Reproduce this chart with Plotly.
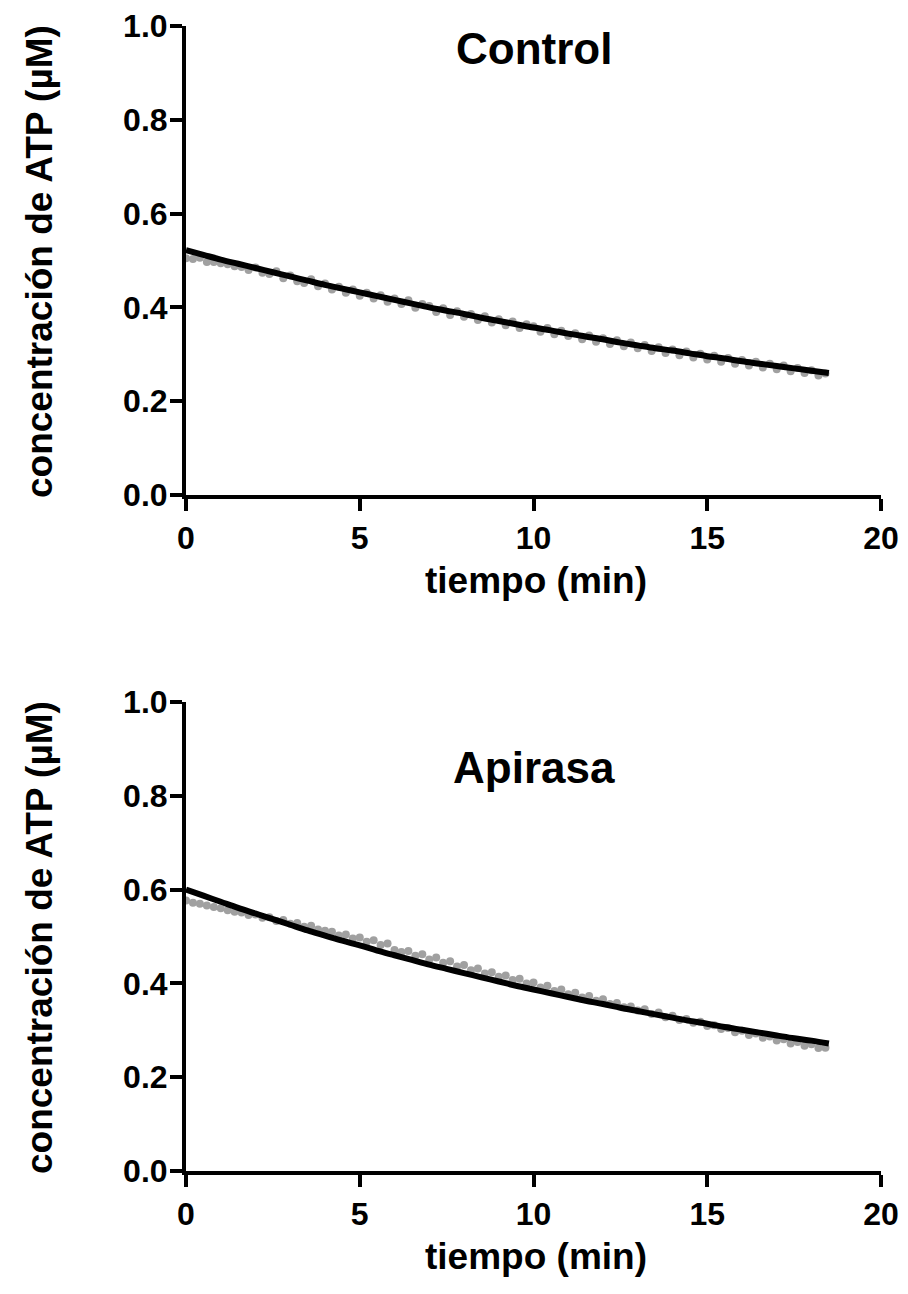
import plotly.graph_objects as go
from plotly.subplots import make_subplots

# ---------------- data ----------------
t_fit = [0, 0.5, 1, 1.5, 2, 2.5, 3, 3.5, 4, 4.5, 5, 5.5, 6, 6.5, 7, 7.5, 8, 8.5, 9, 9.5,
         10, 10.5, 11, 11.5, 12, 12.5, 13, 13.5, 14, 14.5, 15, 15.5, 16, 16.5, 17, 17.5, 18, 18.5]

control_fit = [0.522, 0.512, 0.502, 0.493, 0.484, 0.475, 0.466, 0.457, 0.448, 0.440,
               0.432, 0.424, 0.416, 0.408, 0.400, 0.393, 0.386, 0.378, 0.371, 0.364,
               0.357, 0.351, 0.344, 0.338, 0.332, 0.325, 0.319, 0.313, 0.308, 0.302,
               0.296, 0.291, 0.285, 0.280, 0.275, 0.270, 0.265, 0.260]

apirasa_fit = [0.600, 0.587, 0.574, 0.561, 0.549, 0.537, 0.525, 0.513, 0.502, 0.491,
               0.481, 0.470, 0.460, 0.450, 0.440, 0.431, 0.422, 0.413, 0.404, 0.395,
               0.387, 0.379, 0.371, 0.363, 0.356, 0.348, 0.341, 0.334, 0.327, 0.320,
               0.314, 0.307, 0.301, 0.295, 0.289, 0.283, 0.278, 0.272]

t_raw = [0.0, 0.2, 0.4, 0.6, 0.8, 1.0, 1.2, 1.4, 1.6, 1.8, 2.0, 2.2, 2.4, 2.6, 2.8, 3.0,
         3.2, 3.4, 3.6, 3.8, 4.0, 4.2, 4.4, 4.6, 4.8, 5.0, 5.2, 5.4, 5.6, 5.8, 6.0, 6.2,
         6.4, 6.6, 6.8, 7.0, 7.2, 7.4, 7.6, 7.8, 8.0, 8.2, 8.4, 8.6, 8.8, 9.0, 9.2, 9.4,
         9.6, 9.8, 10.0, 10.2, 10.4, 10.6, 10.8, 11.0, 11.2, 11.4, 11.6, 11.8, 12.0, 12.2,
         12.4, 12.6, 12.8, 13.0, 13.2, 13.4, 13.6, 13.8, 14.0, 14.2, 14.4, 14.6, 14.8, 15.0,
         15.2, 15.4, 15.6, 15.8, 16.0, 16.2, 16.4, 16.6, 16.8, 17.0, 17.2, 17.4, 17.6, 17.8,
         18.0, 18.2, 18.4]

control_raw = [0.505, 0.503, 0.506, 0.497, 0.497, 0.494, 0.492, 0.488, 0.486, 0.480,
               0.485, 0.474, 0.471, 0.477, 0.462, 0.468, 0.456, 0.452, 0.460, 0.445,
               0.451, 0.438, 0.444, 0.431, 0.438, 0.425, 0.431, 0.419, 0.426, 0.412,
               0.419, 0.407, 0.415, 0.399, 0.407, 0.403, 0.390, 0.398, 0.384, 0.392,
               0.380, 0.386, 0.373, 0.381, 0.368, 0.375, 0.362, 0.370, 0.356, 0.364,
               0.360, 0.348, 0.356, 0.343, 0.350, 0.339, 0.345, 0.332, 0.340, 0.327,
               0.334, 0.322, 0.330, 0.317, 0.325, 0.313, 0.320, 0.307, 0.315, 0.303,
               0.310, 0.298, 0.306, 0.293, 0.301, 0.289, 0.297, 0.284, 0.292, 0.280,
               0.288, 0.276, 0.284, 0.272, 0.280, 0.268, 0.276, 0.264, 0.271, 0.260,
               0.266, 0.255, 0.259]

apirasa_raw = [0.577, 0.572, 0.570, 0.566, 0.563, 0.560, 0.556, 0.553, 0.551, 0.546,
               0.547, 0.540, 0.541, 0.533, 0.535, 0.527, 0.529, 0.521, 0.523, 0.515,
               0.512, 0.510, 0.502, 0.504, 0.496, 0.498, 0.489, 0.492, 0.482, 0.485,
               0.471, 0.467, 0.469, 0.459, 0.462, 0.451, 0.455, 0.444, 0.447, 0.436,
               0.439, 0.428, 0.432, 0.421, 0.424, 0.414, 0.417, 0.407, 0.410, 0.400,
               0.402, 0.391, 0.395, 0.384, 0.387, 0.377, 0.380, 0.370, 0.373, 0.363,
               0.366, 0.356, 0.358, 0.349, 0.351, 0.342, 0.345, 0.335, 0.338, 0.328,
               0.331, 0.322, 0.324, 0.316, 0.318, 0.309, 0.311, 0.303, 0.305, 0.296,
               0.299, 0.290, 0.293, 0.284, 0.287, 0.278, 0.281, 0.272, 0.275, 0.267,
               0.270, 0.262, 0.263]

panel_titles = ["Control", "Apirasa"]
x_ticks = [0, 5, 10, 15, 20]
y_ticks = [0.0, 0.2, 0.4, 0.6, 0.8, 1.0]
y_tick_text = ["0.0", "0.2", "0.4", "0.6", "0.8", "1.0"]
x_title = "tiempo (min)"
y_title = "concentración de ATP (µM)"

# ---------------- figure ----------------
FONT = "Liberation Sans"
W, H = 908, 1294
X0, X20 = 186, 881          # pixel columns of x=0 and x=20
TOP = (26, 495)             # top panel: y=1 and y=0 pixel rows
BOT = (702, 1171)           # bottom panel
L, R, T, B = X0, W - X20, TOP[0], H - BOT[1]
plot_h = H - T - B
plot_w = W - L - R
top_dom = [(BOT[1] - TOP[1]) / plot_h, 1.0]
bot_dom = [0.0, (BOT[1] - BOT[0]) / plot_h]

fig = make_subplots(rows=2, cols=1)

datasets = [(control_raw, control_fit), (apirasa_raw, apirasa_fit)]
for i, (raw, fit) in enumerate(datasets, start=1):
    fig.add_trace(go.Scatter(x=t_raw, y=raw, mode="markers",
                             marker=dict(color="#a0a0a0", size=8, line=dict(width=0)),
                             cliponaxis=False, showlegend=False), row=i, col=1)
    fig.add_trace(go.Scatter(x=t_fit, y=fit, mode="lines",
                             line=dict(color="black", width=6, shape="spline"),
                             cliponaxis=False, showlegend=False), row=i, col=1)

axis_common = dict(showline=True, linecolor="black", linewidth=4, mirror=False,
                   ticks="outside", ticklen=12, tickwidth=4, tickcolor="black",
                   showgrid=False, zeroline=False, automargin=False,
                   tickfont=dict(family=FONT, size=32, color="black", weight="bold"))

for i, dom in [(1, top_dom), (2, bot_dom)]:
    fig.update_xaxes(range=[0, 20], tickvals=x_ticks, ticktext=[str(v) for v in x_ticks],
                     row=i, col=1, **axis_common)
    fig.update_yaxes(range=[0, 1], tickvals=y_ticks, ticktext=y_tick_text, domain=dom,
                     ticklabelstandoff=-4, row=i, col=1, **axis_common)

def py(p):
    return (BOT[1] - p) / plot_h

def px(p):
    return (p - L) / plot_w

annos = []
annos.append(dict(x=10, y=0.953, xref="x", yref="y", text=panel_titles[0], showarrow=False,
                  font=dict(family=FONT, size=44, color="black", weight="bold")))
annos.append(dict(x=10, y=0.86, xref="x2", yref="y2", text=panel_titles[1], showarrow=False,
                  font=dict(family=FONT, size=44, color="black", weight="bold")))

for cy, ty in [(262, 580), (938, 1256)]:
    annos.append(dict(x=px(39), y=py(cy), xref="paper", yref="paper", text=y_title,
                      textangle=-90, showarrow=False, xanchor="center", yanchor="middle",
                      font=dict(family=FONT, size=37, color="black", weight="bold")))
    annos.append(dict(x=px(536), y=py(ty), xref="paper", yref="paper", text=x_title,
                      showarrow=False, xanchor="center", yanchor="middle",
                      font=dict(family=FONT, size=37, color="black", weight="bold")))

fig.update_layout(width=W, height=H, margin=dict(l=L, r=R, t=T, b=B),
                  paper_bgcolor="white", plot_bgcolor="white", annotations=annos)

fig.write_html("out.html", config={"displayModeBar": False},
               post_script="document.body.style.margin='0';")
